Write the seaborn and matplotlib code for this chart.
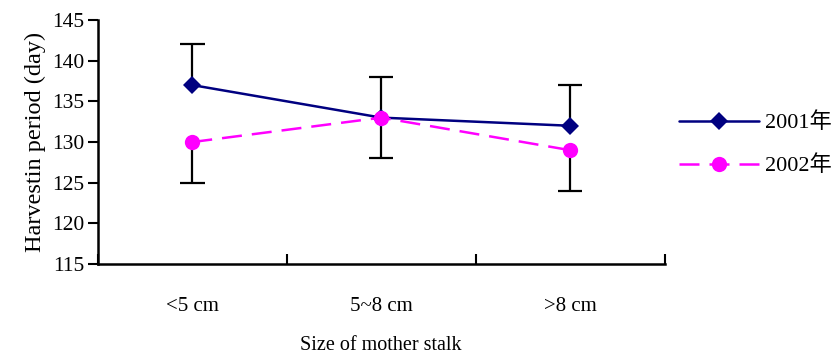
import numpy as np
import pandas as pd
import seaborn as sns
import matplotlib.pyplot as plt

# data
sizes = ["<5 cm", "5~8 cm", ">8 cm"]
days_2001 = [137, 133, 132]
days_2002 = [130, 133, 129]
err_2001 = [5, 5, 5]   # drawn upward only
err_2002 = [5, 5, 5]   # drawn downward only
years = ["2001年", "2002年"]

df = pd.DataFrame({
    "size": sizes * 2,
    "pos": [0, 1, 2] * 2,
    "days": days_2001 + days_2002,
    "year": [years[0]] * 3 + [years[1]] * 3,
})

sns.set_style("ticks", {"axes.edgecolor": "black", "xtick.color": "black",
                        "ytick.color": "black", "text.color": "black",
                        "axes.labelcolor": "black"})
plt.rcParams["font.family"] = ["Liberation Serif", "Noto Sans CJK SC"]

fig = plt.figure(figsize=(8.36, 3.56), dpi=100)
ax = fig.add_axes([0.117, 0.258, 0.678, 0.686])

colors = {years[0]: "#000080", years[1]: "#ff00ff"}

# one-sided error bars: 2001 up, 2002 down
pos = np.arange(len(sizes))
cap = 0.065
top = np.array(days_2001) + np.array(err_2001)
bot = np.array(days_2002) - np.array(err_2002)
ax.vlines(pos, days_2001, top, color="black", lw=1.6, zorder=1)
ax.hlines(top, pos - cap, pos + cap, color="black", lw=1.6, zorder=1)
ax.vlines(pos, bot, days_2002, color="black", lw=1.6, zorder=1)
ax.hlines(bot, pos - cap, pos + cap, color="black", lw=1.6, zorder=1)

sns.lineplot(data=df, x="pos", y="days", hue="year", style="year",
             palette=colors, markers={years[0]: "D", years[1]: "o"},
             dashes={years[0]: "", years[1]: (8, 4)}, markersize=11,
             markeredgewidth=0, linewidth=1.8, ax=ax, zorder=3)
# smaller diamonds
for ln in ax.lines:
    if ln.get_marker() == "D":
        ln.set_markersize(9.5)

ax.set_xlim(-0.5, 2.5)
ax.set_ylim(115, 145)
ax.set_yticks(range(115, 146, 5))
ax.set_xticks([-0.5, 0.5, 1.5, 2.5])
ax.set_xticklabels([])
ax.set_xticks([0, 1, 2], minor=True)
ax.set_xticklabels(sizes, minor=True)
ax.tick_params(axis="x", which="major", direction="in", length=7, width=1.5)
ax.tick_params(axis="x", which="minor", length=0, pad=24, labelsize=15)
ax.tick_params(axis="y", direction="out", length=7, width=1.5, labelsize=15.5, pad=3)
for s in ["left", "bottom"]:
    ax.spines[s].set_linewidth(1.8)
sns.despine(ax=ax)

ax.set_xlabel("Size of mother stalk", fontsize=14.5, labelpad=14)
ax.set_ylabel("Harvestin period (day)", fontsize=17.5, labelpad=4)

ax.legend(loc="center left", bbox_to_anchor=(0.99, 0.49), frameon=False,
          fontsize=16, handlelength=3.6, handletextpad=0.25, labelspacing=1.0,
          title=None)

fig.savefig("out.png", dpi=100)
